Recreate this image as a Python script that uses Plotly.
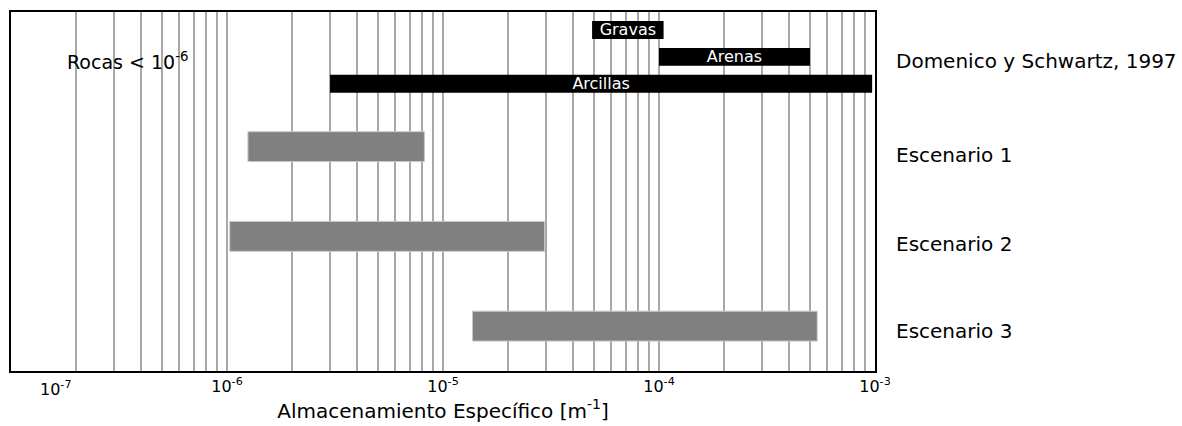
import plotly.graph_objects as go

# Reference ranges (Domenico y Schwartz, 1997), specific storage [1/m]
ref_names = ["Gravas", "Arenas", "Arcillas"]
ref_lo = [4.9e-5, 1.0e-4, 3.0e-6]
ref_hi = [1.05e-4, 5.0e-4, 9.7e-4]
ref_pos = [-0.3, 0.0, 0.3]

# Scenario ranges
esc_names = ["Escenario 1", "Escenario 2", "Escenario 3"]
esc_lo = [1.25e-6, 1.03e-6, 1.37e-5]
esc_hi = [8.2e-6, 2.95e-5, 5.4e-4]
esc_pos = [1, 2, 3]

row_labels = ["Domenico y Schwartz, 1997", "Escenario 1", "Escenario 2", "Escenario 3"]
row_pos = [0, 1, 2, 3]
row_shift = [-4, -8, -8, -5]

decades = [-7, -6, -5, -4, -3]

FONT = "DejaVu Sans"

# grid at every 1..9 x 10^n, labels only at the decades
tickvals, ticktext = [], []
for d in decades:
    for m in range(1, 10):
        if d == decades[-1] and m > 1:
            break
        tickvals.append(m * 10.0 ** d)
        if m == 1 and d != decades[0]:
            ticktext.append(f"10<sup>{d}</sup>")
        else:
            ticktext.append("")

fig = go.Figure()

fig.add_trace(go.Bar(
    y=ref_pos, base=ref_lo,
    x=[h - l for l, h in zip(ref_lo, ref_hi)],
    orientation="h", width=0.2,
    marker=dict(color="black", line=dict(width=0)),
    text=ref_names, textposition="inside", insidetextanchor="middle",
    textangle=0, constraintext="none",
    textfont=dict(color="white", size=16, family=FONT),
    hoverinfo="skip", showlegend=False,
))

fig.add_trace(go.Bar(
    y=esc_pos, base=esc_lo,
    x=[h - l for l, h in zip(esc_lo, esc_hi)],
    orientation="h", width=0.333,
    marker=dict(color="#808080", line=dict(color="#c8c8c8", width=1)),
    hoverinfo="skip", showlegend=False,
))

annotations = []
for lab, p, s in zip(row_labels, row_pos, row_shift):
    annotations.append(dict(
        x=1.022, xref="paper", y=p, yref="y", yshift=s,
        text=lab, showarrow=False, xanchor="left", yanchor="middle",
        font=dict(size=20, family=FONT, color="black"),
    ))
annotations.append(dict(
    x=0.062, xref="paper", y=0.05, yref="y",
    text="Rocas &lt; 10<sup>-6</sup>", showarrow=False,
    xanchor="left", yanchor="middle",
    font=dict(size=19, family=FONT, color="black"),
))
annotations.append(dict(
    x=0.052, xref="paper", y=-0.048, yref="paper",
    text="10<sup>-7</sup>", showarrow=False,
    xanchor="center", yanchor="middle",
    font=dict(size=16, family=FONT, color="black"),
))

fig.update_layout(
    width=1182, height=426,
    margin=dict(l=11, r=307, t=12, b=55),
    paper_bgcolor="white", plot_bgcolor="white",
    barmode="overlay",
    font=dict(family=FONT, color="black"),
    annotations=annotations,
    xaxis=dict(
        type="log", range=[-7, -3],
        tickvals=tickvals, ticktext=ticktext,
        tickfont=dict(size=16, family=FONT, color="black"),
        showgrid=True, gridcolor="#a8a8a8", gridwidth=1.5,
        showline=True, linecolor="black", linewidth=2, mirror=True,
        ticks="", zeroline=False,
        title=dict(text="Almacenamiento Específico [m<sup>-1</sup>]",
                   font=dict(size=20, family=FONT, color="black"), standoff=4),
    ),
    yaxis=dict(
        range=[3.5, -0.5], showticklabels=False, showgrid=False,
        showline=True, linecolor="black", linewidth=2, mirror=True,
        zeroline=False, ticks="",
    ),
)

fig.write_html("out.html")
